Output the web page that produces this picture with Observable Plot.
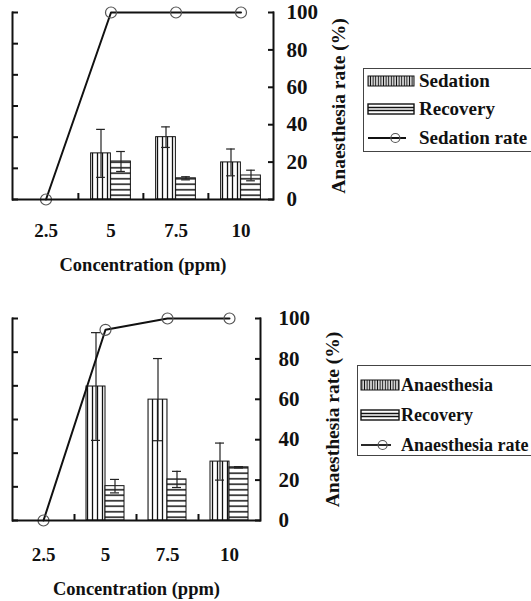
<!DOCTYPE html>
<html>
<head>
<meta charset="utf-8">
<script src="https://cdn.jsdelivr.net/npm/d3@7"></script>
<script src="https://cdn.jsdelivr.net/npm/@observablehq/plot@0.6"></script>
<style>
  body { margin: 0; background: #fff; font-family: 'Liberation Serif', serif; }
  #wrap { position: relative; width: 531px; height: 601px; overflow: hidden; font-family: 'Liberation Serif', serif; }
  .panel { position: absolute; left: 0; }
  .legend { position: absolute; border: 1px solid #444; background: #fff; font-weight: bold; color: #111; box-sizing: border-box; font-family: 'Liberation Serif', serif; }
  .legend .row { position: absolute; left: 0; display: flex; align-items: center; white-space: nowrap; }
  .legend svg { display: block; }
</style>
</head>
<body>
<svg width="0" height="0" style="position:absolute">
  <defs>
    <pattern id="vstripe" patternUnits="userSpaceOnUse" width="5" height="10">
      <rect width="5" height="10" fill="#fff"/>
      <line x1="2.5" y1="0" x2="2.5" y2="10" stroke="#111" stroke-width="1.3"/>
    </pattern>
    <pattern id="hstripe" patternUnits="userSpaceOnUse" width="10" height="5.5">
      <rect width="10" height="5.5" fill="#fff"/>
      <line x1="0" y1="2.75" x2="10" y2="2.75" stroke="#111" stroke-width="1.5"/>
    </pattern>
    <pattern id="vstripeDense" patternUnits="userSpaceOnUse" width="2.6" height="10">
      <rect width="2.6" height="10" fill="#fff"/>
      <line x1="1.3" y1="0" x2="1.3" y2="10" stroke="#111" stroke-width="1.2"/>
    </pattern>
  </defs>
</svg>
<div id="wrap"></div>
<script>
// ---------- data ----------
const concentrations = ["2.5", "5", "7.5", "10"];
// Panel A (bars read on the left axis, whose labels are cropped; line on the right axis, %)
const sedationTime   = [null, 7.4, 10.0, 5.95];
const sedationErr    = [null, 3.85, 1.65, 2.15];
const recoveryTimeA  = [null, 6.1, 3.4, 3.85];
const recoveryErrA   = [null, 1.6, 0.25, 0.85];
const sedationRate   = [0, 100, 100, 100];
// Panel B
const anaesthesiaTime = [null, 19.9, 17.95, 8.75];
const anaesthesiaErr  = [null, 8.0, 6.1, 2.75];
const recoveryTimeB   = [null, 5.1, 6.1, 7.9];
const recoveryErrB    = [null, 1.0, 1.2, 0.1];
const anaesthesiaRate = [0, 94.4, 100, 100];
// axes
const leftTicks  = [0, 5, 10, 15, 20, 25, 30];
const rightTicks = [0, 20, 40, 60, 80, 100];
const leftMax = 30, rightMax = 100;
const xTitle = "Concentration (ppm)";
const yRightTitle = "Anaesthesia rate (%)";

const FONT = "'Liberation Serif', serif";

function rowsOf(a, ae, r, re, rate) {
  return concentrations.map((c, i) => ({c, a: a[i], ae: ae[i], r: r[i], re: re[i], rate: rate[i]}));
}

function buildPanel({rows, height, mTop, mBottom, mRight, barW, rPad, titleDx, xPad, xTitleDy}) {
  const width = 531, mLeft = 12;
  const bw = (width - mLeft - mRight) / concentrations.length;
  const half = bw / 2;
  const plotH = height - mTop - mBottom;
  const k = leftMax / rightMax;
  const bars = rows.filter(d => d.a != null);
  const capHalf = 4.5;
  const capA = {dx: -barW / 2, insetLeft: half - capHalf, insetRight: half - capHalf, stroke: "#222", strokeWidth: 1.2};
  const capR = {dx: barW / 2, insetLeft: half - capHalf, insetRight: half - capHalf, stroke: "#222", strokeWidth: 1.2};
  const svg = Plot.plot({
    width, height,
    marginLeft: mLeft, marginRight: mRight, marginTop: mTop, marginBottom: mBottom,
    style: {fontFamily: FONT, fontSize: "18px", fontWeight: "bold", color: "#111", background: "transparent"},
    x: {type: "band", domain: concentrations, padding: 0, axis: null},
    y: {domain: [0, leftMax], axis: null},
    marks: [
      Plot.barY(bars, {x: "c", y: "a", fill: "url(#vstripe)", stroke: "#111", strokeWidth: 1, insetLeft: half - barW, insetRight: half}),
      Plot.barY(bars, {x: "c", y: "r", fill: "url(#hstripe)", stroke: "#111", strokeWidth: 1, insetLeft: half, insetRight: half - barW}),
      Plot.ruleX(bars, {x: "c", y1: d => d.a - d.ae, y2: d => d.a + d.ae, dx: -barW / 2, stroke: "#222", strokeWidth: 1.2}),
      Plot.tickY(bars, {x: "c", y: d => d.a + d.ae, ...capA}),
      Plot.tickY(bars, {x: "c", y: d => d.a - d.ae, ...capA}),
      Plot.ruleX(bars, {x: "c", y1: d => d.r - d.re, y2: d => d.r + d.re, dx: barW / 2, stroke: "#222", strokeWidth: 1.2}),
      Plot.tickY(bars, {x: "c", y: d => d.r + d.re, ...capR}),
      Plot.tickY(bars, {x: "c", y: d => d.r - d.re, ...capR}),
      Plot.line(rows, {x: "c", y: d => d.rate * k, stroke: "#111", strokeWidth: 2}),
      Plot.dot(rows, {x: "c", y: d => d.rate * k, r: 5.5, stroke: "#555", strokeWidth: 1.2, fill: "none"}),
      Plot.ruleY([0], {stroke: "#111", strokeWidth: 2}),
      Plot.frame({anchor: "left", stroke: "#111", strokeWidth: 2}),
      Plot.frame({anchor: "right", stroke: "#111", strokeWidth: 2}),
      Plot.ruleX(concentrations.slice(1), {x: d => d, dx: -half, insetTop: plotH - 6, stroke: "#111", strokeWidth: 2}),
      Plot.axisY(leftTicks, {anchor: "left", tickSize: -6, tickFormat: () => "", strokeWidth: 2}),
      Plot.axisY(rightTicks.map(v => v * k), {anchor: "right", tickSize: -6, tickPadding: rPad, strokeWidth: 2,
        tickFormat: v => String(Math.round(v / k)), label: null, fontSize: 21}),
      Plot.text([yRightTitle], {frameAnchor: "right", rotate: -90, dx: titleDx, textAnchor: "middle", fontSize: 19.5, fontWeight: "bold"}),
      Plot.axisX({anchor: "bottom", tickSize: 0, tickPadding: xPad, label: null, fontSize: 19}),
      Plot.text([xTitle], {frameAnchor: "bottom", dy: xTitleDy, fontSize: 18.5, fontWeight: "bold"})
    ]
  });
  return svg;
}

function buildLegend({left, top, w, h, items, swatchX, textX, rowYs, swW, fontSize}) {
  const div = document.createElement("div");
  div.className = "legend";
  Object.assign(div.style, {left: left + "px", top: top + "px", width: w + "px", height: h + "px", fontSize: fontSize + "px"});
  items.forEach((it, i) => {
    const row = document.createElement("div");
    row.className = "row";
    row.style.top = (rowYs[i] - 11) + "px";
    row.style.height = "22px";
    const ns = "http://www.w3.org/2000/svg";
    const svg = document.createElementNS(ns, "svg");
    svg.setAttribute("width", textX);
    svg.setAttribute("height", 22);
    let inner = "";
    if (it.type === "v") {
      inner = `<rect x="${swatchX}" y="6" width="${swW}" height="10" fill="url(#vstripeDense)" stroke="#111" stroke-width="1"/>`;
    } else if (it.type === "h") {
      inner = `<rect x="${swatchX}" y="6" width="${swW}" height="10" fill="#fff" stroke="#111" stroke-width="1.4"/>` +
              `<line x1="${swatchX}" x2="${swatchX + swW}" y1="9.5" y2="9.5" stroke="#111" stroke-width="1.4"/>` +
              `<line x1="${swatchX}" x2="${swatchX + swW}" y1="12.5" y2="12.5" stroke="#111" stroke-width="1.4"/>`;
    } else {
      inner = `<line x1="${swatchX}" x2="${swatchX + swW - 8}" y1="11" y2="11" stroke="#111" stroke-width="1.8"/>` +
              `<circle cx="${swatchX + (swW - 8) * 0.72}" cy="11" r="4.5" fill="none" stroke="#555" stroke-width="1.2"/>`;
    }
    svg.innerHTML = inner;
    row.appendChild(svg);
    const span = document.createElement("span");
    span.textContent = it.label;
    row.appendChild(span);
    div.appendChild(row);
  });
  return div;
}

const wrap = document.getElementById("wrap");

const p1 = buildPanel({rows: rowsOf(sedationTime, sedationErr, recoveryTimeA, recoveryErrA, sedationRate),
  height: 300, mTop: 12, mBottom: 101, mRight: 258, barW: 20, rPad: 19, titleDx: 65, xPad: 24, xTitleDy: 71});
p1.classList.add("panel"); p1.style.top = "0px";
wrap.appendChild(p1);

const p2 = buildPanel({rows: rowsOf(anaesthesiaTime, anaesthesiaErr, recoveryTimeB, recoveryErrB, anaesthesiaRate),
  height: 301, mTop: 18, mBottom: 81, mRight: 271, barW: 19, rPad: 24, titleDx: 72, xPad: 27, xTitleDy: 74});
p2.classList.add("panel"); p2.style.top = "300px";
wrap.appendChild(p2);

wrap.appendChild(buildLegend({left: 363, top: 68, w: 170, h: 84, swatchX: 4, textX: 55, swW: 46, fontSize: 19,
  rowYs: [12, 40, 69],
  items: [{type: "v", label: "Sedation"}, {type: "h", label: "Recovery"}, {type: "l", label: "Sedation rate"}]}));
wrap.appendChild(buildLegend({left: 357, top: 365, w: 176, h: 91, swatchX: 3, textX: 43, swW: 38, fontSize: 18,
  rowYs: [19, 49, 79],
  items: [{type: "v", label: "Anaesthesia"}, {type: "h", label: "Recovery"}, {type: "l", label: "Anaesthesia rate"}]}));
</script>
</body>
</html>
